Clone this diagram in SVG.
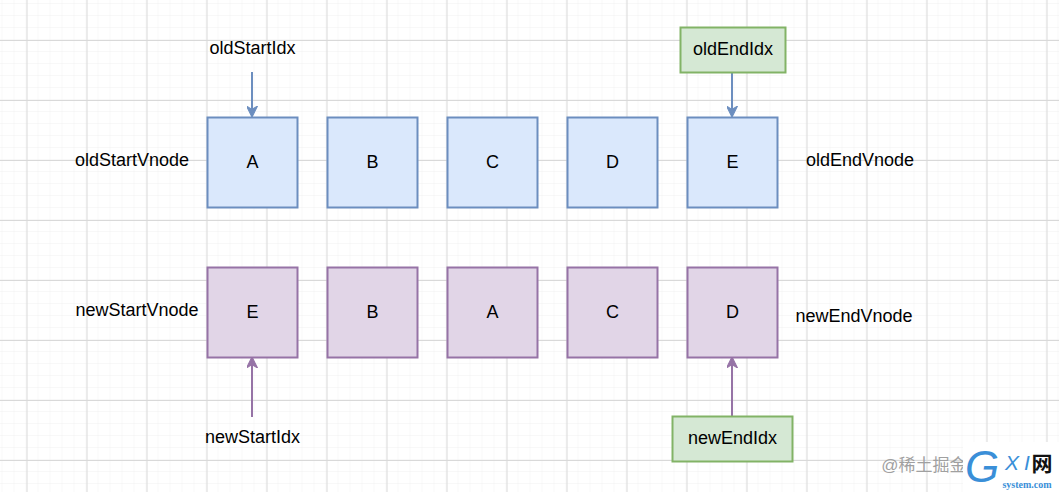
<svg xmlns="http://www.w3.org/2000/svg" width="1059" height="492" viewBox="0 0 1059 492">
<defs>
<pattern id="minor" width="12" height="12" patternUnits="userSpaceOnUse" x="2.5" y="4">
<path d="M12 0V12M0 12H12" fill="none" stroke="#f0f0f0" stroke-width="1"/>
</pattern>
<pattern id="major" width="60" height="60" patternUnits="userSpaceOnUse" x="26.5" y="40">
<path d="M0.5 0V60M0 0.5H60" fill="none" stroke="#d9d9d9" stroke-width="1"/>
</pattern>
<marker id="ab" viewBox="0 0 10 10" refX="9" refY="5" markerWidth="11" markerHeight="11" markerUnits="userSpaceOnUse" orient="auto">
<path d="M0 0L10 5L0 10L3 5Z" fill="#6c8ebf" stroke="#6c8ebf" stroke-width="1"/>
</marker>
<marker id="ap" viewBox="0 0 10 10" refX="9" refY="5" markerWidth="11" markerHeight="11" markerUnits="userSpaceOnUse" orient="auto">
<path d="M0 0L10 5L0 10L3 5Z" fill="#9673a6" stroke="#9673a6" stroke-width="1"/>
</marker>
</defs>
<style>
text{font-family:"Liberation Sans",Arial,sans-serif;font-size:18px;fill:#000;text-anchor:middle;dominant-baseline:central}
.blue{fill:#dae8fc;stroke:#6c8ebf;stroke-width:2}
.purple{fill:#e1d5e7;stroke:#9673a6;stroke-width:2}
.green{fill:#d5e8d4;stroke:#82b366;stroke-width:2}
.eb{stroke:#6c8ebf;stroke-width:2;fill:none;marker-end:url(#ab)}
.ep{stroke:#9673a6;stroke-width:2;fill:none;marker-end:url(#ap)}
.wm{font-family:"Liberation Sans",sans-serif;fill:#3a8fd8;font-style:italic}
</style>
<rect width="1059" height="492" fill="#fff"/>
<rect width="1059" height="492" fill="url(#minor)"/>
<rect width="1059" height="492" fill="url(#major)"/>

<g id="connectors">
<path class="eb" d="M252 72V116"/>
<path class="eb" d="M732 73V116"/>
<path class="ep" d="M252 417V358"/>
<path class="ep" d="M732 417V358"/>
</g>

<g id="oldA"><rect class="blue" x="207.5" y="117.5" width="90" height="90"/><text x="252.5" y="162">A</text></g>
<g id="oldB"><rect class="blue" x="327.5" y="117.5" width="90" height="90"/><text x="372.5" y="162">B</text></g>
<g id="oldC"><rect class="blue" x="447.5" y="117.5" width="90" height="90"/><text x="492.5" y="162">C</text></g>
<g id="oldD"><rect class="blue" x="567.5" y="117.5" width="90" height="90"/><text x="612.5" y="162">D</text></g>
<g id="oldE"><rect class="blue" x="687.5" y="117.5" width="90" height="90"/><text x="732.5" y="162">E</text></g>

<g id="newE"><rect class="purple" x="207.5" y="267.5" width="90" height="90"/><text x="252.5" y="312">E</text></g>
<g id="newB"><rect class="purple" x="327.5" y="267.5" width="90" height="90"/><text x="372.5" y="312">B</text></g>
<g id="newA"><rect class="purple" x="447.5" y="267.5" width="90" height="90"/><text x="492.5" y="312">A</text></g>
<g id="newC"><rect class="purple" x="567.5" y="267.5" width="90" height="90"/><text x="612.5" y="312">C</text></g>
<g id="newD"><rect class="purple" x="687.5" y="267.5" width="90" height="90"/><text x="732.5" y="312">D</text></g>

<g id="oldEndIdx"><rect class="green" x="680.5" y="27.5" width="105" height="45"/><text x="733" y="49">oldEndIdx</text></g>
<g id="newEndIdx"><rect class="green" x="672.5" y="416.5" width="120" height="45"/><text x="732.5" y="438">newEndIdx</text></g>

<g id="oldStartIdx"><text x="252.5" y="48">oldStartIdx</text></g>
<g id="newStartIdx"><text x="252.5" y="437">newStartIdx</text></g>
<g id="oldStartVnode"><text x="132" y="160">oldStartVnode</text></g>
<g id="newStartVnode"><text x="137" y="310">newStartVnode</text></g>
<g id="oldEndVnode"><text x="860" y="160">oldEndVnode</text></g>
<g id="newEndVnode"><text x="854" y="316">newEndVnode</text></g>

<g id="watermark">
<text x="924" y="465" style="fill:#a0a0a0;font-family:'Liberation Sans','Noto Sans CJK SC',sans-serif;font-size:17px">@稀土掘金</text>
<rect x="963" y="442" width="96" height="50" fill="#fff"/>
<text class="wm" x="982" y="466" style="font-size:44px">G</text>
<text class="wm" x="1012" y="462" style="font-size:21px">X</text>
<text class="wm" x="1027" y="462" style="font-size:21px">I</text>
<text x="1042" y="462" style="fill:#111;font-family:'Noto Sans CJK SC',sans-serif;font-size:21px;font-weight:bold">网</text>
<text x="1027" y="484" style="fill:#3a8fd8;font-family:'Liberation Serif',serif;font-size:10px;font-weight:bold">system.com</text>
</g>
</svg>
